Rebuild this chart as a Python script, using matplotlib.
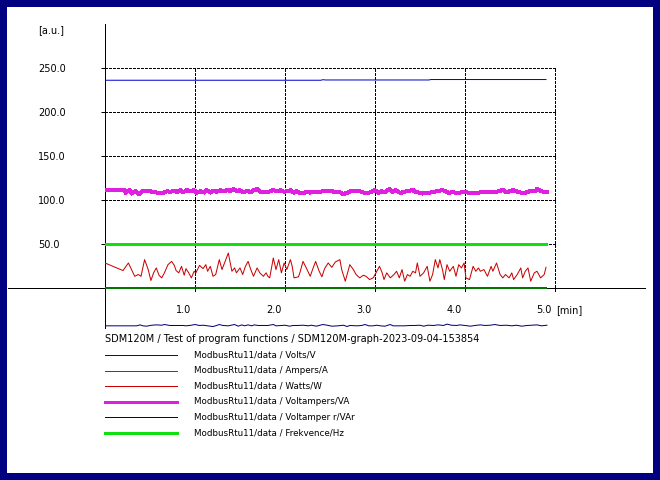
import matplotlib
matplotlib.use("Agg")
import matplotlib.pyplot as plt
from matplotlib.lines import Line2D
from matplotlib.patches import Rectangle

# ---------------- data ----------------
volts_t = [0.00, 2.40, 2.42, 2.45, 3.60, 3.62, 4.90]
volts_v = [236.2, 236.2, 236.8, 236.5, 236.5, 237.0, 237.0]

ampers_t = [0.00, 4.90]
ampers_v = [0.2, 0.2]

watts_t = [0.00, 0.20, 0.26, 0.29, 0.33, 0.37, 0.40, 0.44, 0.48, 0.51,
           0.54, 0.57, 0.60, 0.63, 0.66, 0.70, 0.74, 0.77, 0.79, 0.82,
           0.85, 0.88, 0.90, 0.93, 0.96, 0.99, 1.01, 1.05, 1.09, 1.12,
           1.14, 1.17, 1.20, 1.23,
           1.27, 1.30, 1.37, 1.41, 1.44, 1.46, 1.50, 1.53, 1.56, 1.59,
           1.62, 1.65, 1.69, 1.72, 1.76, 1.79, 1.81, 1.83, 1.87, 1.90,
           1.93, 1.96, 1.99, 2.02, 2.06, 2.08, 2.10, 2.15, 2.17, 2.20,
           2.24, 2.28, 2.31, 2.34, 2.38, 2.41, 2.44, 2.48,
           2.52, 2.56, 2.61, 2.63, 2.67, 2.72, 2.76, 2.79, 2.83, 2.87,
           2.90, 2.94, 2.98, 3.01, 3.05, 3.08, 3.10, 3.13, 3.17, 3.21,
           3.24, 3.27, 3.30, 3.33, 3.36, 3.39, 3.42, 3.45, 3.47, 3.50,
           3.54, 3.58, 3.61, 3.64, 3.67, 3.70, 3.72,
           3.75, 3.77, 3.80, 3.83, 3.87, 3.90, 3.93, 3.96, 3.99, 4.01,
           4.05, 4.09, 4.12, 4.15, 4.17, 4.21, 4.25, 4.29, 4.31, 4.35,
           4.39, 4.42, 4.45, 4.49, 4.52, 4.54, 4.58, 4.62, 4.64, 4.67,
           4.70, 4.73, 4.77, 4.80, 4.84, 4.88, 4.90]
watts_v = [28.9, 20.3, 28.9, 22.5, 13.8, 15.8, 13.8, 32.7, 21.4, 9.0,
           17.7, 23.3, 15.0, 12.0, 17.7, 27.0, 30.7, 26.2, 20.3, 17.7,
           25.1, 15.0, 22.5, 17.7, 12.0, 19.5, 17.7, 26.2, 22.5, 27.0,
           19.5, 25.1, 13.8, 15.8,
           32.7, 21.4, 40.2, 19.5, 23.3, 17.7, 23.3, 15.8, 25.1, 30.7,
           21.4, 13.8, 23.3, 17.7, 13.8, 17.7, 13.8, 12.0, 34.6, 21.4,
           32.7, 17.7, 28.9, 21.4, 32.7, 25.1, 12.0, 13.2, 19.5, 30.7,
           22.5, 13.8, 22.5, 30.7, 19.5, 13.2, 22.5, 28.9,
           24.0, 30.1, 32.7, 21.4, 8.2, 27.0, 21.4, 15.8, 12.0, 15.0,
           13.8, 10.1, 12.0, 17.7, 25.1, 17.7, 10.1, 17.7, 12.0, 15.8,
           19.5, 12.0, 21.4, 8.2, 15.8, 13.8, 19.5, 17.7, 28.9, 13.8,
           17.7, 25.1, 8.2, 15.8, 32.7, 23.3, 32.7,
           21.4, 10.1, 27.0, 19.5, 25.1, 13.8, 27.0, 23.3, 28.9, 12.0,
           10.1, 25.1, 19.5, 23.3, 19.5, 21.4, 13.8, 25.1, 19.5, 28.9,
           15.8, 12.0, 15.8, 12.0, 17.7, 10.1, 15.8, 23.3, 12.0, 19.5,
           23.3, 8.2, 17.7, 19.5, 12.0, 15.8, 24.0]

va_t = [0.00, 0.21, 0.23, 0.27, 0.30, 0.34, 0.38, 0.42, 0.46, 0.50,
        0.53, 0.58, 0.62, 0.65, 0.69, 0.73, 0.76, 0.80, 0.84, 0.87,
        0.91, 0.95, 0.99, 1.02, 1.06, 1.10, 1.13, 1.17, 1.21, 1.24,
        1.28, 1.32, 1.36, 1.39, 1.43, 1.47, 1.50, 1.54, 1.58, 1.62,
        1.65, 1.69, 1.73, 1.76, 1.80, 1.84, 1.87, 1.91, 1.95, 1.99,
        2.02, 2.06, 2.10, 2.13, 2.17, 2.21, 2.24, 2.28, 2.32, 2.36,
        2.39, 2.43, 2.47,
        2.52, 2.56, 2.61, 2.65, 2.69, 2.72, 2.76, 2.80, 2.83, 2.87,
        2.91, 2.94, 3.00, 3.04, 3.07, 3.11, 3.16, 3.19, 3.23, 3.27,
        3.30, 3.34, 3.38, 3.42, 3.45, 3.49, 3.53, 3.56, 3.60, 3.64,
        3.67, 3.71, 3.75, 3.79, 3.82, 3.86, 3.90, 3.93, 3.97, 4.01,
        4.04, 4.08, 4.12, 4.16, 4.19, 4.23, 4.27, 4.30, 4.34, 4.38,
        4.42, 4.45, 4.49, 4.53, 4.56, 4.60, 4.64, 4.67, 4.71, 4.75,
        4.78, 4.80, 4.83, 4.87, 4.91]
va_v = [111.8, 111.8, 108.5, 111.5, 107.7, 110.7, 107.0, 110.7, 110.3, 110.3,
        109.2, 108.8, 107.7, 108.5, 110.3, 109.6, 111.1, 109.6, 111.5, 109.2,
        111.5, 110.3, 111.5, 108.5, 110.3, 108.8, 111.5, 108.8, 111.1, 109.6,
        111.5, 110.0, 112.2, 110.3, 112.6, 110.3, 111.5, 109.2, 110.7, 109.2,
        111.5, 112.6, 109.6, 109.6, 109.2, 110.3, 111.8, 110.0, 111.5, 109.6,
        110.3, 111.5, 108.8, 110.3, 108.1, 108.5, 109.6, 108.8, 110.0, 109.2,
        109.6, 110.7, 111.1,
        110.3, 109.2, 109.2, 107.0, 108.5, 110.0, 110.7, 110.7, 110.3, 108.8,
        108.8, 108.8, 111.5, 108.5, 110.3, 109.2, 112.6, 109.6, 111.5, 108.8,
        108.8, 110.0, 110.7, 111.8, 109.2, 108.8, 107.7, 108.1, 108.5, 109.2,
        110.0, 110.7, 111.5, 110.0, 108.5, 109.2, 108.5, 108.5, 109.2, 109.6,
        108.5, 108.5, 108.5, 108.8, 109.2, 109.6, 109.6, 109.6, 109.6, 110.3,
        111.8, 109.6, 110.0, 111.5, 110.7, 109.2, 108.5, 108.5, 110.0, 110.7,
        110.3, 113.0, 111.1, 109.6, 109.2]

var_t = [0.00, 0.35, 0.39, 0.42, 0.46, 0.52, 0.57, 0.63, 0.66, 0.72,
         0.87, 0.90, 0.96, 1.00, 1.05, 1.09, 1.14, 1.20, 1.24, 1.27,
         1.31, 1.37, 1.40, 1.44, 1.48, 1.52, 1.55, 1.59, 1.63, 1.66,
         1.70, 1.76, 1.81, 1.87, 1.90, 1.96, 2.00, 2.05, 2.09, 2.14,
         2.20, 2.26, 2.29, 2.35, 2.39, 2.42, 2.47,
         2.52, 2.59, 2.65, 2.69, 2.72, 2.80, 2.85, 2.89, 2.93, 2.98,
         3.02, 3.06, 3.11, 3.17, 3.20, 3.26, 3.33, 3.39, 3.44, 3.50,
         3.54, 3.59, 3.65, 3.70, 3.76, 3.80, 3.85, 3.91, 3.94, 4.00,
         4.06, 4.11, 4.17, 4.22, 4.28, 4.33, 4.39, 4.46, 4.52, 4.57,
         4.63, 4.69, 4.74, 4.80, 4.85, 4.91]
var_v = [-42.4, -42.4, -41.3, -42.4, -42.8, -41.7, -41.3, -41.7, -40.9, -42.0,
         -42.0, -42.4, -41.7, -40.9, -42.0, -41.7, -42.4, -43.2, -42.0, -40.9,
         -42.0, -42.4, -41.7, -40.9, -42.8, -41.3, -42.4, -41.3, -42.4, -41.3,
         -42.0, -42.0, -42.0, -40.9, -42.4, -42.0, -41.7, -42.8, -42.0, -42.0,
         -41.7, -42.4, -41.7, -42.8, -41.7, -40.9, -41.7,
         -42.8, -42.4, -41.7, -43.2, -42.0, -42.4, -42.0, -40.9, -42.4, -42.4,
         -41.7, -42.4, -42.8, -40.9, -42.4, -42.4, -42.4, -42.0, -42.0, -41.7,
         -42.8, -41.7, -42.0, -41.3, -42.0, -40.5, -41.7, -42.0, -41.3, -42.0,
         -42.8, -42.0, -41.3, -42.0, -41.7, -40.9, -42.0, -41.7, -42.4, -41.7,
         -42.8, -42.0, -41.7, -41.3, -42.4, -41.7]

hz_t = [0.00, 4.90]
hz_v = [50.0, 50.0]

series_labels = ["ModbusRtu11/data / Volts/V",
                 "ModbusRtu11/data / Ampers/A",
                 "ModbusRtu11/data / Watts/W",
                 "ModbusRtu11/data / Voltampers/VA",
                 "ModbusRtu11/data / Voltamper r/VAr",
                 "ModbusRtu11/data / Frekvence/Hz"]

y_ticks = [50, 100, 150, 200, 250]
y_ticklabels = ["50.0", "100.0", "150.0", "200.0", "250.0"]
x_ticks = [1, 2, 3, 4, 5]
x_ticklabels = ["1.0", "2.0", "3.0", "4.0", "5.0"]
title_text = "SDM120M / Test of program functions / SDM120M-graph-2023-09-04-153854"

# ---------------- styling ----------------
W, H = 660, 480
PX = 72.0 / 100.0  # one pixel in points
FS = 7.0
FS_LEG = 6.3
plt.rcParams["font.family"] = ["DejaVu Sans"]

colors = ["#0000d0", "#007800", "#c80000", "#e020e0", "#000078", "#10e010"]
widths = [1 * PX, 2 * PX, 1 * PX, 3 * PX, 1 * PX, 3 * PX]
smooth = [True, False, True, False, True, False]
legend_widths = [1 * PX, 1 * PX, 1 * PX, 3 * PX, 1 * PX, 3 * PX]

fig = plt.figure(figsize=(W / 100, H / 100), dpi=100)
fig.patch.set_facecolor("#000080")
fig.add_artist(Rectangle((7 / W, 7 / H), (W - 14) / W, (H - 14) / H,
                         transform=fig.transFigure, facecolor="white",
                         edgecolor="none", zorder=0))

top_px, bot_px = 24.0, 328.3
ax = fig.add_axes([105 / W, 1 - bot_px / H, 540 / W, (bot_px - top_px) / H])
ax.set_xlim(0, 6.0)
ax.set_ylim(-45.2, 300)
ax.patch.set_visible(False)
for s in ["top", "right", "bottom"]:
    ax.spines[s].set_visible(False)
ax.spines["left"].set_linewidth(1 * PX)
ax.spines["left"].set_color("black")
ax.spines["left"].set_antialiased(False)
ax.set_xticks([])
ax.set_yticks(y_ticks)
ax.set_yticklabels(y_ticklabels)
ax.tick_params(axis="y", length=4 * PX, width=1 * PX, pad=63 * PX,
               labelsize=FS, colors="black")
for lab in ax.get_yticklabels():
    lab.set_horizontalalignment("left")

dash = (0, (3.5 * PX, 2.5 * PX))
ax.hlines(y_ticks, 0, 5, colors="black", linestyles=dash, lw=1 * PX,
          zorder=1, antialiased=False)
ax.vlines(x_ticks, -3, 250, colors="black", linestyles=dash, lw=1 * PX,
          zorder=1, antialiased=False)
ax.axhline(0, xmin=-0.18, xmax=1.0, color="black", lw=1 * PX,
           clip_on=False, zorder=2, antialiased=False)

for t, lab in zip(x_ticks, x_ticklabels):
    ax.text(t - 0.04, -24.5, lab, ha="right", va="center", fontsize=FS)
ax.text(5.01, -24.5, "[min]", ha="left", va="center", fontsize=FS)
fig.text(38 / W, 1 - 30 / H, "[a.u.]", ha="left", va="center", fontsize=FS)

data = [(volts_t, volts_v), (ampers_t, ampers_v), (watts_t, watts_v),
        (va_t, va_v), (var_t, var_v), (hz_t, hz_v)]
for (t, v), c, w, aa in zip(data, colors, widths, smooth):
    ax.plot(t, v, color=c, lw=w, antialiased=aa, zorder=3)

# ---------------- legend below ----------------
fig.text(105 / W, 1 - 339 / H, title_text, ha="left", va="center", fontsize=FS)
row_y = [354.5, 370.5, 386.0, 401.5, 417.0, 432.5]
for yy, lab, c, w in zip(row_y, series_labels, colors, legend_widths):
    fig.add_artist(Line2D([105 / W, 177 / W], [1 - yy / H, 1 - yy / H],
                          transform=fig.transFigure, color=c, lw=w,
                          antialiased=False))
    fig.text(194 / W, 1 - yy / H, lab, ha="left", va="center", fontsize=FS_LEG)

fig.savefig("out.png", dpi=100, facecolor=fig.get_facecolor())
